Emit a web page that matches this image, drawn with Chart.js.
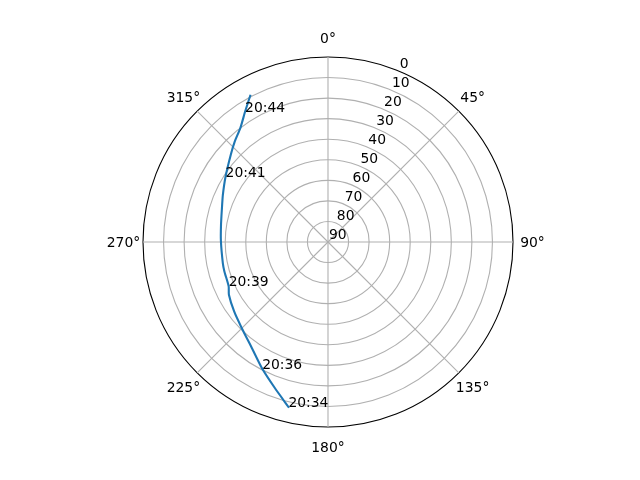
<!DOCTYPE html>
<html>
<head>
<meta charset="utf-8">
<script src="https://cdn.jsdelivr.net/npm/chart.js@4.4.1/dist/chart.umd.min.js"></script>
<style>
  html, body { margin: 0; padding: 0; background: #fff; }
</style>
</head>
<body>
<canvas id="myChart" width="640" height="480"></canvas>
<script>
// pass: azimuth and elevation in degrees
const azimuth   = [193.3, 199.9, 207.4, 215.7, 225.1, 233.4, 241.9, 246.0, 254.1, 258.7, 270.3, 279.2, 286.9, 294.2, 302.6, 311.9, 317.2, 322.3, 327.7, 332.2];
const elevation = [7.5, 14.4, 20.6, 26.4, 30.7, 33.2, 35.4, 37.1, 37.6, 37.8, 37.9, 37.3, 36.0, 34.0, 30.9, 26.4, 23.4, 20.0, 14.9, 9.4];
const timeTags  = ['20:34', '', '20:36', '', '', '', '', '20:39', '', '', '', '', '', '', '20:41', '', '', '', '20:44', ''];

const thetaTicks = [0, 45, 90, 135, 180, 225, 270, 315];
const rTicks = [0, 10, 20, 30, 40, 50, 60, 70, 80, 90];
const rLabelAngle = 22.5;

const app = {};

app.step = 0.5; // one radar "category" per half degree of azimuth
app.font = '13.9px "DejaVu Sans"';

app.buildData = () => {
  const directions = [];
  for (let a = 0; a < 360; a += app.step) {
    directions.push(a);
  }
  const track = directions.map(() => null);
  const tags = directions.map(() => '');
  azimuth.forEach((az, i) => {
    const idx = Math.round(az / app.step);
    track[idx] = elevation[i];
    tags[idx] = timeTags[i];
  });
  return { directions, track, tags };
};

app.init = () => {
  const { directions, track, tags } = app.buildData();

  const polarLabels = {
    id: 'polarLabels',
    afterDatasetsUpdate(chart) {
      // radar always closes its line, the pass is an open track
      const line = chart.getDatasetMeta(0).dataset;
      line._loop = false;
      line.points = line.points;
    },
    afterDraw(chart) {
      const scale = chart.scales.r;
      const ctx = chart.ctx;
      ctx.save();
      ctx.font = app.font;
      ctx.fillStyle = '#000';

      // direction labels round the rim
      ctx.textAlign = 'center';
      ctx.textBaseline = 'alphabetic';
      thetaTicks.forEach(t => {
        const p = scale.getPointPosition(t / app.step, scale.drawingArea + 19.5);
        ctx.fillText(t + '°', p.x, p.y + 5);
      });

      // elevation labels
      ctx.textAlign = 'left';
      rTicks.forEach(v => {
        const p = scale.getPointPosition(rLabelAngle / app.step, scale.getDistanceFromCenterForValue(v));
        ctx.fillText(String(v), p.x + 1, p.y - 3);
      });

      // time stamps along the track
      const points = chart.getDatasetMeta(0).data;
      tags.forEach((tag, i) => {
        if (tag) {
          ctx.fillText(tag, points[i].x, points[i].y);
        }
      });
      ctx.restore();
    }
  };

  const data = {
    labels: directions,
    datasets: [{
      data: track,
      borderColor: '#1f77b4',
      borderWidth: 2.1,
      borderCapStyle: 'square',
      pointRadius: 0,
      pointHoverRadius: 0,
      fill: false,
      tension: 0.2,
      spanGaps: true
    }]
  };

  const config = {
    type: 'radar',
    data,
    options: {
      responsive: false,
      animation: false,
      events: [],
      layout: { padding: { left: 143, right: 127, top: 57, bottom: 53 } },
      plugins: { legend: { display: false }, tooltip: { enabled: false } },
      scales: {
        r: {
          min: 0,
          max: 90,
          reverse: true,
          startAngle: 0,
          ticks: { display: false, stepSize: 10 },
          pointLabels: { display: false },
          grid: {
            circular: true,
            color: ctx => ctx.tick && ctx.tick.value === 0 ? '#000' : '#b0b0b0',
            lineWidth: 1.1
          },
          angleLines: {
            color: '#b0b0b0',
            lineWidth: ctx => (ctx.index * app.step) % 45 === 0 ? 1.1 : 0
          }
        }
      }
    },
    plugins: [polarLabels]
  };

  new Chart(document.getElementById('myChart'), config);
};

document.addEventListener('DOMContentLoaded', () => {
  app.init();
});
</script>
</body>
</html>
